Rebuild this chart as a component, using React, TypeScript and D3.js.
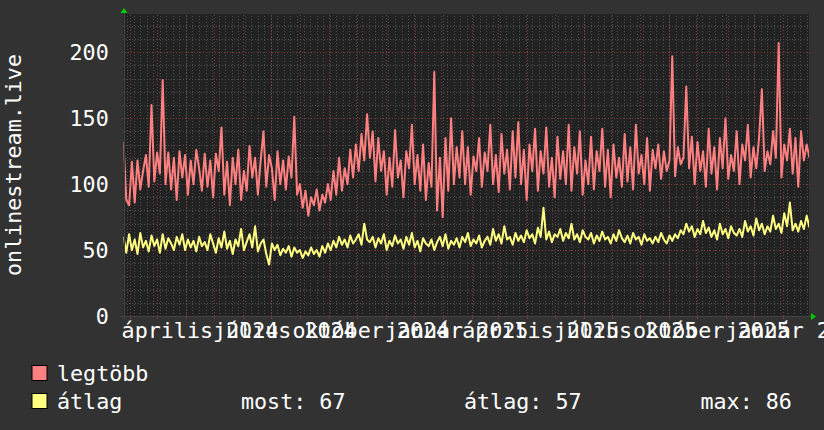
import React from 'react';
import * as d3 from 'd3';

const W = 824;
const H = 430;
const X0 = 123.5;
const X1 = 809;
const Y0 = 316;
const Y1 = 14;
const FONT = '"DejaVu Sans Mono", monospace';
const FS = 21.7;

const startDate = new Date(Date.UTC(2024, 0, 25, 2));
const endDate = new Date(Date.UTC(2026, 0, 28, 14));
const stepDays = 3;

// legtöbb (max) series, one value per 3 days
const legtobb = [
  132, 88, 84, 117, 86, 118, 96, 110, 122, 98,
  160, 102, 124, 108, 179, 100, 124, 96, 120, 88,
  125, 105, 122, 92, 118, 100, 126, 112, 95, 123,
  98, 118, 90, 123, 110, 143, 92, 117, 84, 120,
  100, 126, 88, 110, 95, 129, 105, 120, 92, 118,
  140, 98, 122, 112, 88, 125, 100, 118, 96, 121,
  105, 151, 92, 100, 82, 95, 76, 90, 84, 96,
  80, 92, 86, 100, 88, 110, 92, 120, 95, 112,
  100, 126, 105, 130, 110, 138, 118, 153, 120, 140,
  102, 135, 110, 125, 92, 120, 98, 141, 105, 118,
  90, 125, 112, 145, 100, 122, 95, 130, 88, 116,
  98, 185, 80, 120, 75, 135, 95, 150, 100, 128,
  105, 140, 100, 128, 92, 121, 110, 135, 98, 124,
  110, 145, 100, 122, 94, 138, 108, 126, 96, 140,
  105, 147, 100, 126, 88, 130, 110, 142, 95, 125,
  108, 143, 98, 120, 90, 136, 104, 125, 100, 145,
  95, 128, 108, 140, 92, 118, 100, 136, 96, 125,
  110, 142, 98, 126, 90, 130, 105, 120, 98, 138,
  102, 128, 96, 145, 108, 122, 100, 135, 95, 126,
  112, 130, 104, 125, 110, 118, 197, 106, 128, 115,
  120, 174, 112, 136, 100, 132, 110, 125, 98, 142,
  108, 128, 96, 135, 112, 150, 104, 122, 110, 140,
  100, 130, 118, 145, 105, 128, 112, 135, 172, 110,
  125, 115, 140, 120, 207, 105, 130, 118, 142, 108,
  135, 98, 140, 118, 130, 120,
];

// átlag (average) series
const atlag = [
  60, 48, 62, 50, 58, 47, 63, 52, 57, 49,
  61, 53, 58, 48, 62, 51, 59, 55, 50, 60,
  54, 62, 50, 58, 52, 57, 49, 60, 53, 56,
  50, 62, 55, 48, 59, 52, 64, 51, 57, 47,
  58, 53, 66, 50, 56, 62, 52, 68, 49, 55,
  58, 47, 39, 55, 50, 54, 46, 51, 48, 53,
  45, 52, 48, 50, 44, 49, 46, 52, 47, 50,
  45, 53, 48, 55, 50, 57, 52, 60, 54, 58,
  52, 61, 55, 58, 62, 54, 70, 58, 56, 60,
  52, 59, 55, 62, 50, 57, 53, 61, 55, 58,
  51, 60, 54, 63, 52, 57, 49, 59, 55, 53,
  58, 50, 56, 60, 53, 62, 51, 57, 54, 59,
  52, 60, 56, 63, 53, 58, 55, 61, 52, 57,
  60, 54, 66, 57, 62, 55, 68, 58, 60, 54,
  63, 57, 61, 56, 65, 59, 62, 55, 67, 60,
  82, 58, 64, 56, 62, 60, 66, 57, 63, 59,
  70, 58, 62, 56, 65, 60, 58, 63, 55, 61,
  57, 64, 58, 60, 55, 62, 57, 65, 59, 56,
  61, 55, 63, 58, 60, 54, 62, 57, 59, 55,
  60, 56, 63, 58, 55, 61, 57, 62, 59, 65,
  62, 70, 64, 68, 60, 66, 62, 72, 63, 67,
  60, 65, 58, 70, 62, 66, 59, 68, 63, 61,
  66, 60, 72, 64, 68, 61, 74, 65, 70, 62,
  68, 64, 76, 66, 70, 63, 78, 68, 86, 65,
  70, 64, 72, 66, 76, 67,
];

const yTicks = [0, 50, 100, 150, 200];
const yMinorStep = 10;
const yMax = 229;

const xLabelDates = [
  '2024-04-01', '2024-07-01', '2024-10-01', '2025-01-01',
  '2025-04-01', '2025-07-01', '2025-10-01', '2026-01-01',
];
const xLabels = [
  'április 2024', 'július 2024', 'október 2024', 'január 2025',
  'április 2025', 'július 2025', 'október 2025', 'január 2026',
];

const yTitle = 'onlinestream.live';
const seriesNames = ['legtöbb', 'átlag'];
const seriesColors = ['#FF8080', '#FFFF80'];
const statTexts = ['most: 67', 'átlag: 57', 'max: 86'];

const BG = '#323232';
const CANVAS = '#222222';
const MINOR = '#4e4e4e';
const MAJOR = '#803a3a';
const TEXT = '#ffffff';
const ARROW = '#00cc00';

export default function App() {
  const x = d3.scaleUtc().domain([startDate, endDate]).range([X0, X1]);
  const y = d3.scaleLinear().domain([0, yMax]).range([Y0, Y1]);
  const dayMs = 864e5;
  const dateAt = (i: number) => new Date(startDate.getTime() + i * stepDays * dayMs);

  const line = d3
    .line<number>()
    .x((_, i) => x(dateAt(i)))
    .y((v) => y(v));

  const weeks = d3.utcMonday.range(startDate, endDate);
  const months = d3.utcMonth.range(startDate, endDate);
  const minorY = d3.range(yMinorStep, yMax, yMinorStep).filter((v) => v % 50 !== 0);

  return (
    <svg
      width={W}
      height={H}
      style={{ position: 'absolute', left: 0, top: 0, display: 'block' }}
      fontFamily={FONT}
    >
      <defs>
        <clipPath id="plotclip">
          <rect x={X0} y={Y1} width={X1 - X0} height={Y0 - Y1} />
        </clipPath>
      </defs>
      <rect x={0} y={0} width={W} height={H} fill={BG} />
      <rect x={X0} y={Y1} width={X1 - X0} height={Y0 - Y1} fill={CANVAS} />

      {/* minor grid */}
      <g stroke={MINOR} strokeWidth={1} strokeDasharray="1,2" shapeRendering="crispEdges">
        {minorY.map((v) => (
          <line key={'hy' + v} x1={X0 - 1} x2={X1 + 1} y1={Math.round(y(v)) + 0.5} y2={Math.round(y(v)) + 0.5} />
        ))}
        {weeks.map((d) => (
          <line key={'wv' + d.getTime()} x1={Math.round(x(d)) + 0.5} x2={Math.round(x(d)) + 0.5} y1={Y0 + 1} y2={Y1} />
        ))}
      </g>
      {/* major grid */}
      <g stroke={MAJOR} strokeWidth={1} strokeDasharray="1,2" shapeRendering="crispEdges">
        {yTicks.filter((v) => v > 0).map((v) => (
          <line key={'my' + v} x1={X0 - 2} x2={X1 + 2} y1={Math.round(y(v)) + 0.5} y2={Math.round(y(v)) + 0.5} />
        ))}
        {months.map((d) => (
          <line key={'mv' + d.getTime()} x1={Math.round(x(d)) + 0.5} x2={Math.round(x(d)) + 0.5} y1={Y0} y2={Y1} />
        ))}
      </g>
      <g stroke={MAJOR} strokeWidth={1} shapeRendering="crispEdges">
        {months.map((d) => (
          <line key={'mt' + d.getTime()} x1={Math.round(x(d)) + 0.5} x2={Math.round(x(d)) + 0.5} y1={Y0} y2={Y0 + 3} />
        ))}
      </g>

      {/* series */}
      <g clipPath="url(#plotclip)" fill="none" strokeWidth={2} strokeLinejoin="round">
        <path d={line(legtobb) || ''} stroke={seriesColors[0]} />
        <path d={line(atlag) || ''} stroke={seriesColors[1]} />
      </g>

      {/* axes */}
      <g stroke="#444" strokeWidth={1} shapeRendering="crispEdges">
        <line x1={X0 - 4} x2={X1 + 3} y1={Y0 + 0.5} y2={Y0 + 0.5} />
        <line x1={X0 + 0.5} x2={X0 + 0.5} y1={Y0 + 4} y2={Y1 - 2} />
      </g>
      <polygon points={`${X1 + 2},${Y0 - 3} ${X1 + 2},${Y0 + 4} ${X1 + 7},${Y0 + 0.5}`} fill={ARROW} />
      <polygon points={`${X0 - 3},${Y1 - 1} ${X0 + 4},${Y1 - 1} ${X0 + 0.5},${Y1 - 6}`} fill={ARROW} />

      {/* y tick labels */}
      <g fill={TEXT} fontSize={FS} textAnchor="end">
        {yTicks.map((v) => (
          <text key={'yl' + v} x={108.7} y={y(v) + 7.8}>{v}</text>
        ))}
      </g>

      {/* x labels */}
      <g fill={TEXT} fontSize={FS} textAnchor="middle">
        {xLabelDates.map((s, i) => {
          const d = new Date(s + 'T00:00:00Z');
          const c = x(new Date(d.getTime() + 15 * dayMs));
          return (
            <text key={'xl' + i} x={c} y={338} style={{ whiteSpace: 'pre' }}>{xLabels[i]}</text>
          );
        })}
      </g>

      {/* y title */}
      <text
        transform={`translate(21,${(Y0 + Y1) / 2}) rotate(-90)`}
        textAnchor="middle"
        fill={TEXT}
        fontSize={FS}
      >
        {yTitle}
      </text>

      {/* legend */}
      {seriesNames.map((n, i) => (
        <g key={'lg' + n}>
          <rect x={32} y={365.5 + i * 28} width={15} height={15} fill={seriesColors[i]} stroke="#000" strokeWidth={1} />
          <text x={57} y={381 + i * 28} fill={TEXT} fontSize={FS}>{n}</text>
        </g>
      ))}
      {statTexts.map((t, i) => (
        <text key={'st' + i} x={[241, 464, 700.5][i]} y={409} fill={TEXT} fontSize={FS} style={{ whiteSpace: 'pre' }}>
          {t}
        </text>
      ))}
    </svg>
  );
}
